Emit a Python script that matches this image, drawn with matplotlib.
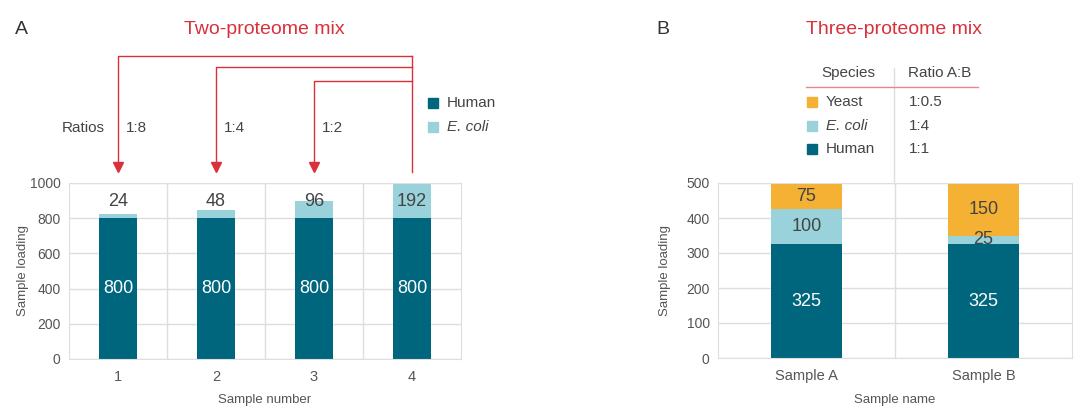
import numpy as np
import matplotlib.pyplot as plt

plt.rcParams['font.family'] = ['Liberation Sans', 'DejaVu Sans']

# panel A data
samples_a = ['1', '2', '3', '4']
human_a = [800, 800, 800, 800]
ecoli_a = [24, 48, 96, 192]
ratios_a = ['1:8', '1:4', '1:2']

# panel B data
samples_b = ['Sample A', 'Sample B']
human_b = [325, 325]
ecoli_b = [100, 25]
yeast_b = [75, 150]
species_b = ['Yeast', 'E. coli', 'Human']
ratio_ab = ['1:0.5', '1:4', '1:1']

HUMAN = '#00667e'
ECOLI = '#9ad2dc'
YEAST = '#f4b133'
RED = '#d9313b'
GRID = '#dedede'
TXT = '#555555'
DARK = '#444444'
W, H = 1080, 413

fig = plt.figure(figsize=(10.8, 4.13), dpi=100)


def fx(x):
    return x / W


def fy(y):
    return 1 - y / H


def box(l, t, r, b):
    return [l / W, 1 - b / H, (r - l) / W, (b - t) / H]


def style(ax, n, ymax, step):
    ax.set_xlim(-0.5, n - 0.5)
    ax.set_ylim(0, ymax)
    ax.set_yticks(np.arange(0, ymax + 1, step))
    ax.set_xticks(np.arange(n))
    ax.set_xticks(np.arange(n - 1) + 0.5, minor=True)
    ax.grid(axis='y', color=GRID, lw=1)
    ax.grid(axis='x', which='minor', color=GRID, lw=1)
    ax.set_axisbelow(True)
    for s in ax.spines.values():
        s.set_color(GRID)
    ax.tick_params(which='both', length=0, colors=TXT, labelsize=10)
    ax.tick_params(axis='x', pad=8, labelsize=10.5)
    ax.tick_params(axis='y', pad=6)


# ---------- panel A ----------
axA = fig.add_axes(box(69, 183, 461, 359))
xa = np.arange(len(samples_a))
axA.bar(xa, human_a, width=0.39, color=HUMAN)
axA.bar(xa, ecoli_a, bottom=human_a, width=0.39, color=ECOLI)
style(axA, len(samples_a), 1000, 200)
axA.set_xticklabels(samples_a)
axA.set_xlabel('Sample number', color=TXT, fontsize=9.5)
axA.set_ylabel('Sample loading', color=TXT, fontsize=9.5)
axA.xaxis.set_label_coords(0.5, -35 / 176)
axA.yaxis.set_label_coords(-40 / 392, 0.5)
for i in xa:
    axA.text(i, human_a[i] / 2, str(human_a[i]), color='white', fontsize=13,
             ha='center', va='center')
    axA.text(i, 895, str(ecoli_a[i]), color=DARK, fontsize=13,
             ha='center', va='center')

# arrows from sample 4 to samples 1-3
levels = [1722, 1659, 1580]
x4 = xa[-1]
axA.plot([x4, x4], [1062, levels[0]], color=RED, lw=1, clip_on=False)
for i, lev in enumerate(levels):
    axA.plot([x4, xa[i], xa[i]], [lev, lev, 1100], color=RED, lw=1,
             clip_on=False)
    axA.plot(xa[i], 1090, marker='v', color=RED, ms=7, clip_on=False)
    axA.text(xa[i] + 0.08, 1312, ratios_a[i], color=DARK, fontsize=11,
             ha='left', va='center')

fig.text(fx(83), fy(128), 'Ratios', color=DARK, fontsize=11,
         ha='center', va='center')
fig.text(fx(21), fy(30), 'A', color='#333333', fontsize=14, ha='center',
         va='center')
fig.text(fx(264), fy(30), 'Two-proteome mix', color=RED, fontsize=14,
         ha='center', va='center')

# legend A
for lab, col, y, st in [('Human', HUMAN, 103, 'normal'),
                        ('E. coli', ECOLI, 127, 'italic')]:
    fig.patches.append(plt.Rectangle((fx(428), fy(y + 5)), 10 / W, 10 / H,
                                     color=col, transform=fig.transFigure))
    fig.text(fx(447), fy(y), lab, color=DARK, fontsize=11, style=st,
             ha='left', va='center')

# ---------- panel B ----------
axB = fig.add_axes(box(718, 183, 1072, 358))
xb = np.arange(len(samples_b))
bot2 = np.array(human_b) + np.array(ecoli_b)
axB.bar(xb, human_b, width=0.40, color=HUMAN)
axB.bar(xb, ecoli_b, bottom=human_b, width=0.40, color=ECOLI)
axB.bar(xb, yeast_b, bottom=bot2, width=0.40, color=YEAST)
style(axB, len(samples_b), 500, 100)
axB.set_xticklabels(samples_b)
axB.set_xlabel('Sample name', color=TXT, fontsize=9.5)
axB.set_ylabel('Sample loading', color=TXT, fontsize=9.5)
axB.xaxis.set_label_coords(0.5, -36 / 175)
axB.yaxis.set_label_coords(-47 / 354, 0.5)
for i in xb:
    axB.text(i, human_b[i] / 2, str(human_b[i]), color='white', fontsize=13,
             ha='center', va='center')
    axB.text(i, human_b[i] + ecoli_b[i] / 2, str(ecoli_b[i]), color=DARK,
             fontsize=13, ha='center', va='center')
    axB.text(i, bot2[i] + yeast_b[i] / 2, str(yeast_b[i]), color=DARK,
             fontsize=13, ha='center', va='center')

fig.text(fx(663), fy(30), 'B', color='#333333', fontsize=14, ha='center',
         va='center')
fig.text(fx(894), fy(30), 'Three-proteome mix', color=RED, fontsize=14,
         ha='center', va='center')

# table legend B
fig.add_artist(plt.Line2D([fx(894), fx(894)], [fy(68), fy(183)],
                          color=GRID, lw=1))
fig.add_artist(plt.Line2D([fx(806), fx(978)], [fy(87), fy(87)],
                          color='#e8878b', lw=1))
fig.text(fx(848), fy(73), 'Species', color=DARK, fontsize=11,
         ha='center', va='center')
fig.text(fx(940), fy(73), 'Ratio A:B', color=DARK, fontsize=11,
         ha='center', va='center')
cols_b = [YEAST, ECOLI, HUMAN]
for lab, col, r, y in zip(species_b, cols_b, ratio_ab, [102, 126, 149]):
    fig.patches.append(plt.Rectangle((fx(807), fy(y + 5)), 10 / W, 10 / H,
                                     color=col, transform=fig.transFigure))
    fig.text(fx(826), fy(y), lab, color=DARK, fontsize=11,
             style='italic' if lab == 'E. coli' else 'normal',
             ha='left', va='center')
    fig.text(fx(909), fy(y), r, color=DARK, fontsize=11, ha='left',
             va='center')

fig.savefig('out.png', dpi=100, facecolor='white')
